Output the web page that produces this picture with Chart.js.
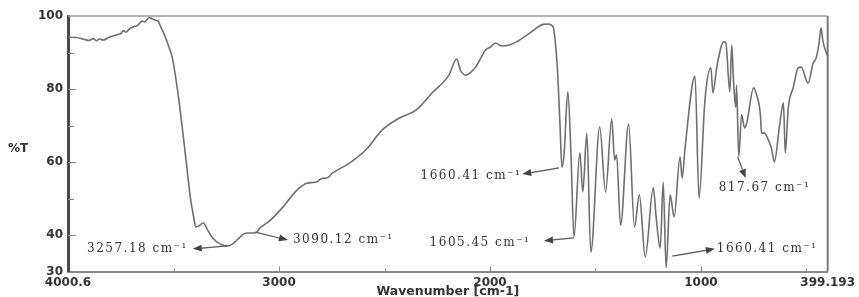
<!DOCTYPE html>
<html>
<head>
<meta charset="utf-8">
<script src="https://cdn.jsdelivr.net/npm/chart.js@4.4.0/dist/chart.umd.min.js"></script>
<style>
  html, body { margin: 0; padding: 0; background: #fff; }
  #wrap { width: 859px; height: 297px; }
</style>
</head>
<body>
<div id="wrap"><canvas id="irChart"></canvas></div>
<script>
// IR spectrum (wavenumber in cm-1, %T)
const wavenumber = [
  4000.6, 3962, 3929, 3901, 3880, 3866, 3852, 3833, 3805, 3772, 3748, 3739, 3725, 3711, 3692,
  3669, 3650, 3636, 3616, 3602, 3588, 3574, 3560, 3541, 3522, 3504, 3475, 3452, 3438, 3419,
  3405, 3395, 3381, 3358, 3339, 3315, 3278, 3245, 3221, 3184, 3160, 3113, 3089, 3042, 2981,
  2915, 2868, 2821, 2798, 2774, 2746, 2666, 2586, 2511, 2431, 2351, 2275, 2195, 2158, 2139,
  2115, 2068, 2021, 1998, 1974, 1946, 1913, 1875, 1805, 1748, 1725, 1701, 1687, 1678, 1668,
  1659, 1649, 1631, 1616, 1602, 1574, 1560, 1541, 1522, 1480, 1452, 1423, 1409, 1400, 1381,
  1343, 1315, 1292, 1264, 1226, 1212, 1193, 1179, 1165, 1146, 1127, 1099, 1089, 1075, 1028,
  1009, 981, 953, 943, 925, 892, 882, 863, 854, 845, 835, 831, 821, 807, 793,
  783, 750, 736, 718, 713, 699, 680, 666, 652, 628, 609, 600, 586, 562, 539,
  525, 492, 468, 454, 440, 431, 421, 407, 399.193
];
const transmittance = [
  94.2, 94.1, 93.7, 93.3, 93.8, 93.2, 93.7, 93.4, 94.2, 94.8, 95.3, 96.0, 95.6, 96.4, 97.0,
  97.5, 98.6, 98.4, 99.6, 99.2, 98.9, 98.6, 96.9, 94.5, 91.5, 88, 77, 66, 59, 49.6,
  45, 42.2, 42.5, 43.3, 41.4, 39.2, 37.5, 37, 37.5, 39.5, 40.5, 40.6, 42, 44, 47.7,
  52.3, 54.2, 54.5, 55.5, 55.6, 57, 59.7, 63.5, 68.8, 72, 74.2, 78.9, 83.8, 88.2, 85,
  83.8, 86, 90.7, 91.5, 92.6, 91.8, 92, 92.9, 95.6, 97.7, 97.8, 97, 90.7, 83, 70,
  58.5, 62, 79.2, 62, 39.4, 62.5, 51.8, 67.9, 35.3, 69.6, 51.8, 71.8, 60.5, 62, 42.7,
  70.4, 42.2, 51, 34, 52.9, 44.7, 36.4, 54.5, 31, 51, 45, 61.4, 55.6, 64, 83.5,
  50.1, 77, 85.8, 78.9, 86, 92.9, 92.6, 79.2, 92, 81.6, 75, 81, 61.5, 72.9, 69.3,
  70.7, 80.3, 78.4, 72.9, 67.9, 67.9, 66, 63.8, 60, 69.6, 76.2, 62.5, 74.8, 80.5, 85.8,
  86, 81.6, 87.1, 88.5, 92.6, 96.7, 92.9, 90.1, 89
];

// axis ticks (empty label = minor tick)
const xTicks = [4000.6, 3500, 3000, 2500, 2000, 1500, 1000, 500, 399.193];
const xTickLabels = ['4000.6', '', '3000', '', '2000', '', '1000', '', '399.193'];
const yTicks = [30, 40, 50, 60, 70, 80, 90, 100];
const yTickLabels = ['30', '40', '', '60', '', '80', '', '100'];

// peak labels: text anchor, arrow from the curve to the tip (all in wavenumber / %T)
const peakNotes = [
  { text: '3257.18 cm⁻¹', align: 'right', at: [3433, 36.2], from: [3245, 37], to: [3409, 36.2] },
  { text: '3090.12 cm⁻¹', align: 'left',  at: [2934, 38.6], from: [3113, 40.8], to: [2958, 38.6] },
  { text: '1660.41 cm⁻¹', align: 'right', at: [1852, 56.2], from: [1673, 58.4], to: [1847, 56.7] },
  { text: '1605.45 cm⁻¹', align: 'right', at: [1809, 37.8], from: [1602, 39.2], to: [1744, 38.4] },
  { text: '817.67 cm⁻¹',  align: 'center', at: [699, 52.9], from: [826, 61.4], to: [788, 55.6] },
  { text: '1660.41 cm⁻¹', align: 'left',  at: [925, 36.2], from: [1136, 34.2], to: [934, 36.2] }
];

const points = wavenumber.map((w, i) => ({ x: w, y: transmittance[i] }));

const tickFont = { family: 'DejaVu Sans', size: 12, weight: 'bold' };

// inward tick marks, top/right frame, %T label and peak notes
const decorations = {
  id: 'decorations',
  beforeDatasetsDraw(chart) {
    const { ctx, chartArea: a, scales: { x, y } } = chart;
    ctx.save();
    ctx.strokeStyle = '#9a9a9a';
    ctx.lineWidth = 1.5;
    ctx.beginPath();
    ctx.moveTo(a.left, a.top);
    ctx.lineTo(a.right, a.top);
    ctx.stroke();
    ctx.strokeStyle = '#7a7a7a';
    ctx.lineWidth = 2;
    ctx.beginPath();
    ctx.moveTo(a.right, a.top);
    ctx.lineTo(a.right, a.bottom);
    ctx.stroke();

    ctx.strokeStyle = '#8a8a8a';
    ctx.lineWidth = 1;
    xTicks.forEach((v, i) => {
      if (v === xTicks[0] || v === xTicks[xTicks.length - 1]) return;
      const px = Math.round(x.getPixelForValue(v)) + 0.5;
      const len = xTickLabels[i] ? 5 : 3;
      ctx.beginPath();
      ctx.moveTo(px, a.bottom);
      ctx.lineTo(px, a.bottom - len);
      ctx.stroke();
    });
    yTicks.forEach((v, i) => {
      if (v === yTicks[0] || v === yTicks[yTicks.length - 1]) return;
      const py = Math.round(y.getPixelForValue(v)) + 0.5;
      ctx.beginPath();
      ctx.moveTo(a.left, py);
      ctx.lineTo(a.left + (yTickLabels[i] ? 8 : 6), py);
      ctx.stroke();
    });

    ctx.fillStyle = '#333';
    ctx.font = 'bold 12px "DejaVu Sans"';
    ctx.textAlign = 'left';
    ctx.textBaseline = 'middle';
    ctx.fillText('%T', 8, y.getPixelForValue(63.5));
    ctx.restore();
  },
  afterDatasetsDraw(chart) {
    const { ctx, scales: { x, y } } = chart;
    const px = p => [x.getPixelForValue(p[0]), y.getPixelForValue(p[1])];
    ctx.save();
    peakNotes.forEach(n => {
      const [x0, y0] = px(n.from);
      const [x1, y1] = px(n.to);
      const ang = Math.atan2(y1 - y0, x1 - x0);
      const hl = 9, hw = 3.5;
      const bx = x1 - hl * Math.cos(ang), by = y1 - hl * Math.sin(ang);
      ctx.strokeStyle = '#555';
      ctx.lineWidth = 1.2;
      ctx.beginPath();
      ctx.moveTo(x0, y0);
      ctx.lineTo(bx, by);
      ctx.stroke();
      ctx.fillStyle = '#444';
      ctx.beginPath();
      ctx.moveTo(x1, y1);
      ctx.lineTo(bx + hw * Math.sin(ang), by - hw * Math.cos(ang));
      ctx.lineTo(bx - hw * Math.sin(ang), by + hw * Math.cos(ang));
      ctx.closePath();
      ctx.fill();

      const [tx, ty] = px(n.at);
      ctx.font = '12px "DejaVu Serif"';
      ctx.letterSpacing = '1.5px';
      ctx.fillStyle = '#333';
      ctx.textAlign = n.align;
      ctx.textBaseline = 'middle';
      ctx.fillText(n.text, tx, ty);
    });
    ctx.restore();
  }
};

new Chart(document.getElementById('irChart'), {
  type: 'line',
  data: {
    datasets: [{
      data: points,
      borderColor: '#6f6f6f',
      borderWidth: 1.6,
      pointRadius: 0,
      cubicInterpolationMode: 'monotone',
      fill: false
    }]
  },
  options: {
    responsive: true,
    maintainAspectRatio: false,
    animation: false,
    layout: { padding: { top: 16, right: 27, left: 0, bottom: 0 } },
    plugins: { legend: { display: false }, tooltip: { enabled: false } },
    scales: {
      x: {
        type: 'linear',
        reverse: true,
        min: 399.193,
        max: 4000.6,
        afterBuildTicks: s => { s.ticks = xTicks.map(v => ({ value: v })); },
        afterFit: s => { s.height = 25.5; },
        grid: { display: false, drawTicks: false },
        border: { color: '#8a8a8a', width: 2 },
        ticks: {
          autoSkip: false, maxRotation: 0, padding: 4, color: '#333', font: tickFont,
          callback: v => xTickLabels[xTicks.indexOf(v)]
        },
        title: {
          display: true, text: 'Wavenumber [cm-1]', color: '#333',
          font: { family: 'DejaVu Sans', size: 12.5, weight: 'bold' },
          padding: { top: 0, bottom: -2 }
        }
      },
      y: {
        min: 30,
        max: 100,
        afterBuildTicks: s => { s.ticks = yTicks.map(v => ({ value: v })); },
        afterFit: s => { s.width = 68; },
        grid: { display: false, drawTicks: false },
        border: { color: '#4a4a4a', width: 3 },
        ticks: {
          padding: 5, color: '#333', font: tickFont,
          callback: v => yTickLabels[yTicks.indexOf(v)]
        }
      }
    }
  },
  plugins: [decorations]
});
</script>
</body>
</html>
